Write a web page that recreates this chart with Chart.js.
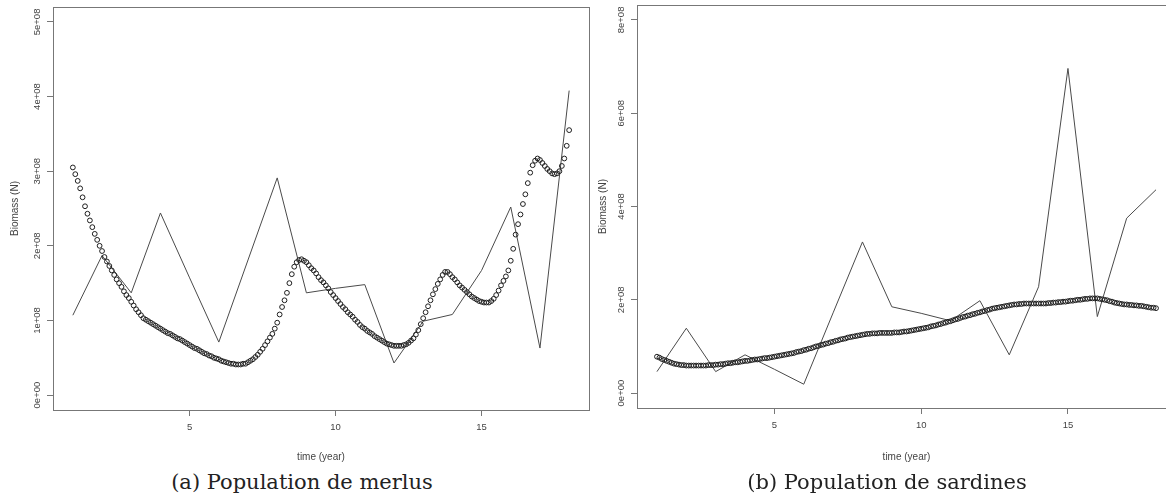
<!DOCTYPE html>
<html>
<head>
<meta charset="utf-8">
<script src="https://cdn.jsdelivr.net/npm/chart.js@4.4.0/dist/chart.umd.min.js"></script>
<style>
    html, body { margin: 0; padding: 0; background: #fff; overflow: hidden; width: 1166px; height: 495px; }
    .panel { position: absolute; top: 0; }
    .caption {
        position: absolute; top: 470px; line-height: 24px;
        font-family: "DejaVu Serif", serif; font-size: 21px; color: #222;
        transform: translateX(-50%); white-space: nowrap;
    }
</style>
</head>
<body>
<div class="panel" style="left:0;"><canvas id="chartMerlus" width="600" height="470"></canvas></div>
<div class="panel" style="left:590px;"><canvas id="chartSardines" width="600" height="470"></canvas></div>
<div class="caption" style="left:302px;">(a) Population de merlus</div>
<div class="caption" style="left:887px;">(b) Population de sardines</div>
<script>
// biomass values are in units of 1e+08
const years = [1, 2, 3, 4, 5, 6, 7, 8, 9, 10, 11, 12, 13, 14, 15, 16, 17, 18];

const merlusObserved = [1.07, 1.87, 1.37, 2.44, 1.57, 0.71, 1.81, 2.91, 1.37, 1.43, 1.48, 0.43, 0.99, 1.08, 1.67, 2.52, 0.63, 4.08];
const sardinesObserved = [0.46, 1.39, 0.46, 0.82, 0.51, 0.19, 1.72, 3.24, 1.85, 1.71, 1.55, 1.98, 0.82, 2.28, 6.96, 1.64, 3.75, 4.36];

// model output, one value per month from year 1 to year 18
const modelStart = 1;
const modelStep = 1 / 12;
const merlusModel = [
    3.05, 2.96, 2.87, 2.77, 2.65, 2.53, 2.43, 2.34, 2.25, 2.16, 2.08, 2.00,
    1.93, 1.85, 1.79, 1.73, 1.67, 1.61, 1.55, 1.50, 1.45, 1.39, 1.34, 1.30,
    1.25, 1.20, 1.15, 1.11, 1.07, 1.03, 1.01, 0.99, 0.97, 0.95, 0.93, 0.91,
    0.89, 0.87, 0.85, 0.83, 0.82, 0.80, 0.78, 0.76, 0.75, 0.73, 0.71, 0.69,
    0.67, 0.65, 0.63, 0.62, 0.60, 0.58, 0.56, 0.55, 0.53, 0.52, 0.50, 0.49,
    0.48, 0.46, 0.45, 0.44, 0.43, 0.42, 0.42, 0.41, 0.41, 0.41, 0.42, 0.42,
    0.44, 0.46, 0.48, 0.51, 0.54, 0.58, 0.62, 0.67, 0.72, 0.77, 0.82, 0.89,
    0.97, 1.08, 1.18, 1.27, 1.37, 1.50, 1.62, 1.72, 1.78, 1.81, 1.82, 1.80,
    1.78, 1.74, 1.70, 1.67, 1.63, 1.58, 1.54, 1.51, 1.47, 1.43, 1.38, 1.34,
    1.30, 1.26, 1.22, 1.18, 1.15, 1.11, 1.08, 1.05, 1.01, 0.98, 0.94, 0.91,
    0.89, 0.86, 0.84, 0.82, 0.79, 0.77, 0.75, 0.73, 0.71, 0.69, 0.68, 0.67,
    0.66, 0.66, 0.66, 0.66, 0.67, 0.68, 0.70, 0.73, 0.76, 0.81, 0.87, 0.95,
    1.03, 1.11, 1.19, 1.27, 1.35, 1.42, 1.49, 1.55, 1.61, 1.65, 1.65, 1.62,
    1.58, 1.55, 1.51, 1.47, 1.44, 1.41, 1.38, 1.35, 1.32, 1.30, 1.28, 1.26,
    1.25, 1.24, 1.24, 1.24, 1.26, 1.29, 1.34, 1.40, 1.47, 1.53, 1.59, 1.67,
    1.80, 1.96, 2.15, 2.29, 2.42, 2.56, 2.69, 2.84, 2.98, 3.08, 3.14, 3.17,
    3.15, 3.11, 3.07, 3.03, 3.00, 2.97, 2.96, 2.97, 3.00, 3.07, 3.17, 3.34,
    3.55
];
const sardinesModel = [
    0.78, 0.76, 0.73, 0.71, 0.69, 0.67, 0.65, 0.63, 0.62, 0.61, 0.60, 0.60,
    0.59, 0.59, 0.59, 0.59, 0.59, 0.59, 0.59, 0.59, 0.59, 0.60, 0.60, 0.60,
    0.61, 0.61, 0.62, 0.62, 0.63, 0.64, 0.64, 0.65, 0.66, 0.66, 0.67, 0.68,
    0.69, 0.69, 0.70, 0.71, 0.72, 0.72, 0.73, 0.74, 0.75, 0.75, 0.76, 0.77,
    0.78, 0.79, 0.80, 0.81, 0.82, 0.83, 0.84, 0.85, 0.86, 0.88, 0.89, 0.90,
    0.92, 0.93, 0.95, 0.96, 0.98, 1.00, 1.01, 1.03, 1.04, 1.06, 1.07, 1.09,
    1.10, 1.12, 1.13, 1.15, 1.16, 1.17, 1.19, 1.20, 1.21, 1.22, 1.23, 1.24,
    1.25, 1.26, 1.27, 1.27, 1.28, 1.28, 1.28, 1.29, 1.29, 1.29, 1.29, 1.29,
    1.29, 1.30, 1.30, 1.30, 1.31, 1.32, 1.32, 1.33, 1.34, 1.35, 1.36, 1.37,
    1.38, 1.39, 1.40, 1.41, 1.43, 1.44, 1.45, 1.47, 1.48, 1.50, 1.51, 1.53,
    1.54, 1.56, 1.58, 1.59, 1.61, 1.63, 1.64, 1.66, 1.67, 1.69, 1.70, 1.72,
    1.73, 1.75, 1.76, 1.78, 1.79, 1.81, 1.82, 1.83, 1.84, 1.85, 1.86, 1.87,
    1.88, 1.89, 1.90, 1.90, 1.91, 1.91, 1.92, 1.92, 1.92, 1.92, 1.92, 1.92,
    1.92, 1.92, 1.92, 1.92, 1.93, 1.93, 1.94, 1.94, 1.95, 1.95, 1.96, 1.96,
    1.97, 1.98, 1.98, 1.99, 2.00, 2.00, 2.01, 2.02, 2.02, 2.03, 2.03, 2.03,
    2.03, 2.02, 2.01, 2.00, 1.99, 1.97, 1.96, 1.94, 1.93, 1.92, 1.91, 1.90,
    1.90, 1.89, 1.89, 1.88, 1.88, 1.87, 1.87, 1.86, 1.85, 1.84, 1.83, 1.83,
    1.82
];

const xTicks = [5, 10, 15];
const merlusYTicks = [0, 1, 2, 3, 4, 5];
const merlusYLabels = ['0e+00', '1e+08', '2e+08', '3e+08', '4e+08', '5e+08'];
const sardinesYTicks = [0, 2, 4, 6, 8];
const sardinesYLabels = ['0e+00', '2e+08', '4e+08', '6e+08', '8e+08'];

const tickFont = { family: '"Liberation Sans", Arial, sans-serif', size: 9.5 };
const titleFont = { family: '"Liberation Sans", Arial, sans-serif', size: 10 };
const axisColor = '#444';
const frameColor = '#777';

// R style frame all round the plot region
const boxPlugin = {
    id: 'box',
    afterDraw(chart) {
        const { ctx, chartArea } = chart;
        ctx.save();
        ctx.strokeStyle = frameColor;
        ctx.lineWidth = 1;
        ctx.strokeRect(Math.round(chartArea.left) + 0.5, Math.round(chartArea.top) + 0.5,
            Math.round(chartArea.right - chartArea.left), Math.round(chartArea.bottom - chartArea.top));
        ctx.restore();
    },
};

function makeChart(id, observed, model, yRange, yTicks, yLabels, frame) {
    const ctx = document.getElementById(id).getContext('2d');
    return new Chart(ctx, {
        type: 'scatter',
        data: {
            datasets: [
                {
                    data: years.map((t, i) => ({ x: t, y: observed[i] })),
                    showLine: true,
                    borderColor: '#4a4a4a',
                    borderWidth: 1,
                    pointRadius: 0,
                    tension: 0,
                    order: 2,
                },
                {
                    data: model.map((v, i) => ({ x: modelStart + i * modelStep, y: v })),
                    showLine: false,
                    pointStyle: 'circle',
                    pointRadius: 2.4,
                    pointBorderWidth: 1,
                    borderColor: '#1e1e1e',
                    backgroundColor: 'rgba(0,0,0,0)',
                    order: 1,
                },
            ],
        },
        options: {
            responsive: false,
            animation: false,
            devicePixelRatio: 1,
            layout: { padding: { left: 0, top: frame.top, right: frame.right, bottom: 0 } },
            plugins: { legend: { display: false }, tooltip: { enabled: false } },
            scales: {
                x: {
                    type: 'linear',
                    min: 0.32,
                    max: 18.68,
                    afterBuildTicks: (scale) => { scale.ticks = xTicks.map((v) => ({ value: v })); },
                    afterFit: (scale) => { scale.height = frame.xHeight; },
                    grid: { drawOnChartArea: false, drawTicks: true, tickLength: 6, color: frameColor },
                    border: { display: false },
                    ticks: { font: tickFont, color: axisColor, padding: 6, autoSkip: false, maxRotation: 0,
                        callback: (v) => String(v) },
                    title: { display: true, text: 'time (year)', font: titleFont, color: axisColor, padding: 7 },
                },
                y: {
                    type: 'linear',
                    min: yRange[0],
                    max: yRange[1],
                    afterBuildTicks: (scale) => { scale.ticks = yTicks.map((v) => ({ value: v })); },
                    afterFit: (scale) => { scale.width = frame.yWidth; },
                    grid: { drawOnChartArea: false, drawTicks: true, tickLength: 6, color: frameColor },
                    border: { display: false },
                    ticks: { font: tickFont, color: axisColor, padding: -4, autoSkip: false,
                        minRotation: 90, maxRotation: 90, crossAlign: 'center',
                        callback: (v, i) => yLabels[i] },
                    title: { display: true, text: 'Biomass (N)', font: titleFont, color: axisColor, padding: frame.titlePad },
                },
            },
        },
        plugins: [boxPlugin],
    });
}

makeChart('chartMerlus', merlusObserved, merlusModel, [-0.2, 5.2], merlusYTicks, merlusYLabels,
    { top: 7, right: 11, xHeight: 60, yWidth: 53, titlePad: 9 });
makeChart('chartSardines', sardinesObserved, sardinesModel, [-0.32, 8.32], sardinesYTicks, sardinesYLabels,
    { top: 5, right: 14, xHeight: 62, yWidth: 47, titlePad: 7 });
</script>
</body>
</html>
